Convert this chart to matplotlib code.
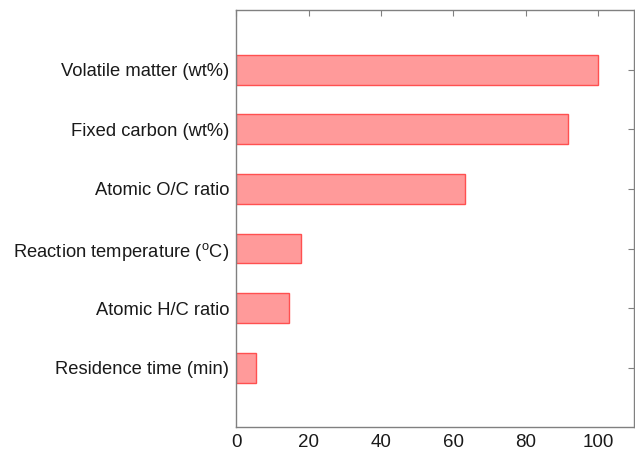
import matplotlib
matplotlib.use("Agg")
import matplotlib.pyplot as plt

labels = ["Residence time (min)",
          "Atomic H/C ratio",
          "Reaction temperature ($^\\mathregular{o}$C)",
          "Atomic O/C ratio",
          "Fixed carbon (wt%)",
          "Volatile matter (wt%)"]
values = [5.5, 14.5, 17.8, 63.3, 91.8, 100.0]
xticks = [0, 20, 40, 60, 80, 100]

plt.rcParams["font.family"] = ["Liberation Sans", "DejaVu Sans"]

fig = plt.figure(figsize=(6.35, 4.51), dpi=100)
ax = fig.add_axes([0.3721, 0.0525, 0.6263, 0.925])

pos = list(range(1, len(values) + 1))
ax.barh(pos, values, height=0.5, color="#ff9a9a", edgecolor="#ff5050", linewidth=1.0)

ax.set_xlim(0, 110)
ax.set_ylim(0, 7)
ax.set_xticks(xticks)
ax.set_yticks(pos)
ax.set_yticklabels(labels, fontsize=13.2, color="#1a1a1a")
ax.tick_params(axis="x", labelsize=13.5, labelcolor="#1a1a1a")

# ticks only drawn inward on top and right
ax.tick_params(axis="x", which="both", bottom=False, top=True, direction="in",
               length=4, color="#808080", pad=5)
ax.tick_params(axis="y", which="both", left=False, right=True, direction="in",
               length=4, color="#808080", pad=5)

for s in ax.spines.values():
    s.set_color("#808080")
    s.set_linewidth(1.0)

fig.savefig("out.png", dpi=100)
